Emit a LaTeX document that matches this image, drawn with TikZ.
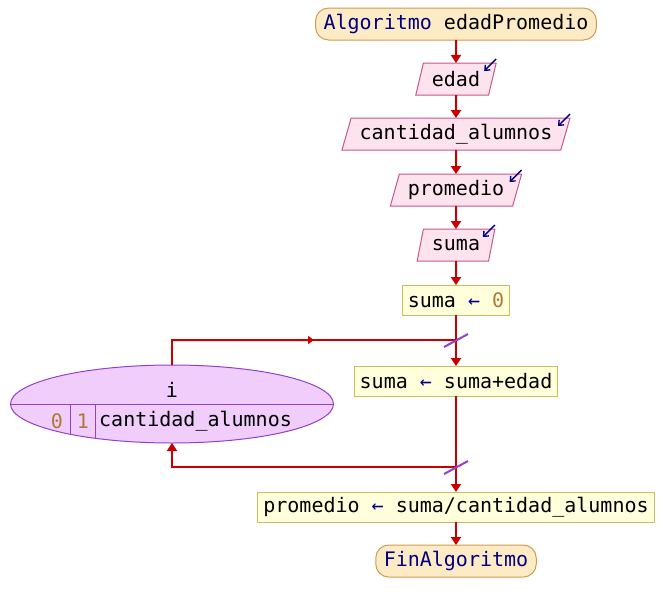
\documentclass[tikz,border=0pt]{standalone}
\usepackage{fontspec}
\setmainfont{DejaVu Sans Mono}
\usetikzlibrary{positioning, arrows.meta, shapes.geometric, calc}

\definecolor{flowred}{HTML}{C80000}
\definecolor{termfill}{HTML}{FDEBC5}
\definecolor{termline}{HTML}{D39B4C}
\definecolor{readfill}{HTML}{FDE3EE}
\definecolor{readline}{HTML}{C9548E}
\definecolor{assignfill}{HTML}{FFFFDC}
\definecolor{assignline}{HTML}{C8C060}
\definecolor{loopfill}{HTML}{F0CDFB}
\definecolor{loopline}{HTML}{9440C8}
\definecolor{keyblue}{HTML}{000080}
\definecolor{numbrown}{HTML}{B07838}

\begin{document}
\begin{tikzpicture}[
    x=1pt, y=-1pt,
    font=\fontsize{20}{24}\selectfont,
    node distance=23pt,
    terminal/.style={
        rectangle,
        rounded corners=13pt,
        draw=termline,
        fill=termfill,
        line width=1pt,
        inner xsep=8pt,
        minimum height=32pt,
        outer sep=0pt
    },
    readbox/.style={
        trapezium,
        trapezium left angle=71,
        trapezium right angle=109,
        trapezium stretches body,
        draw=readline,
        fill=readfill,
        line width=1pt,
        inner xsep=8.5pt,
        minimum height=32pt,
        outer sep=0pt
    },
    assign/.style={
        rectangle,
        draw=assignline,
        fill=assignfill,
        line width=1pt,
        inner xsep=5.5pt,
        minimum height=30pt,
        outer sep=0pt
    },
    loopnode/.style={
        ellipse,
        draw=loopline,
        fill=loopfill,
        line width=1pt,
        minimum width=323pt,
        minimum height=78pt,
        outer sep=0pt
    },
    flowline/.style={
        draw=flowred,
        line width=2pt
    },
    flow/.style={
        flowline,
        -{Triangle[length=8pt, width=10pt]}
    },
    readmark/.style={
        draw=keyblue,
        line width=1.4pt,
        -{Straight Barb[length=4pt, width=7pt]}
    },
    slash/.style={
        draw=loopline,
        line width=2pt
    }
]
\useasboundingbox (0,0) rectangle (664,613);

% ------------------------------------------------------------------
% MAIN SEQUENCE
% ------------------------------------------------------------------

\node[terminal] (start) at (456,24)
{\textcolor{keyblue}{Algoritmo} edadPromedio};

\node[readbox, below=of start] (edad) {edad};

\node[readbox, below=of edad] (cantidad) {cantidad\_alumnos};

\node[readbox, below=24pt of cantidad] (promedio) {promedio};

\node[readbox, below=of promedio] (suma) {suma};

\node[assign, below=24pt of suma] (sumacero)
{suma \textcolor{keyblue}{←} \textcolor{numbrown}{0}};

\coordinate[below=25pt of sumacero] (looptop);

\node[assign, below=51pt of sumacero] (sumaedad)
{suma \textcolor{keyblue}{←} suma+edad};

\coordinate[below=71pt of sumaedad] (loopend);

\node[assign, below=96pt of sumaedad] (promasig)
{promedio \textcolor{keyblue}{←} suma/cantidad\_alumnos};

\node[terminal, below=of promasig] (fin)
{\textcolor{keyblue}{FinAlgoritmo}};

% ------------------------------------------------------------------
% FOR LOOP
% ------------------------------------------------------------------

\node[loopnode] (forloop) at (172,404) {};

\draw[loopline, line width=1pt] (forloop.west) -- (forloop.east);
\draw[loopline, line width=1pt] (70,404) -- (70,434);
\draw[loopline, line width=1pt] (95,404) -- (95,438);

\node (loopvar) at (172,390) {i};
\node[text=numbrown] (loopstart) at (57,421) {0};
\node[text=numbrown] (loopstep) at (83,421) {1};
\node[anchor=west, inner xsep=0pt] (loopstop) at (99,421) {cantidad\_alumnos};

% ------------------------------------------------------------------
% CONNECTIONS
% ------------------------------------------------------------------

\draw[flow] (start) -- (edad);
\draw[flow] (edad) -- (cantidad);
\draw[flow] (cantidad) -- (promedio);
\draw[flow] (promedio) -- (suma);
\draw[flow] (suma) -- (sumacero);

\draw[flowline] (sumacero) -- (looptop);
\draw[flow] (looptop) -- (sumaedad);
\draw[flowline] (sumaedad) -- (loopend);
\draw[flow] (loopend) -- (promasig);
\draw[flow] (promasig) -- (fin);

\draw[flowline] (forloop.north) |- (looptop);
\draw[flowline, -{Triangle[length=6pt, width=8pt]}]
    (forloop.north |- looptop) -- ($(forloop.north |- looptop)!0.5!(looptop)$);
\draw[flow] (loopend) -| (forloop.south);

\draw[slash] ($(looptop)+(-12,7)$) -- ($(looptop)+(12,-6)$);
\draw[slash] ($(loopend)+(-12,7)$) -- ($(loopend)+(12,-6)$);

% ------------------------------------------------------------------
% READ MARKS
% ------------------------------------------------------------------

\foreach \v in {edad, cantidad, promedio, suma}
    \draw[readmark] ([shift={(0,-4)}]\v.top right corner)
        -- ([shift={(-12,8)}]\v.top right corner);

\end{tikzpicture}
\end{document}
